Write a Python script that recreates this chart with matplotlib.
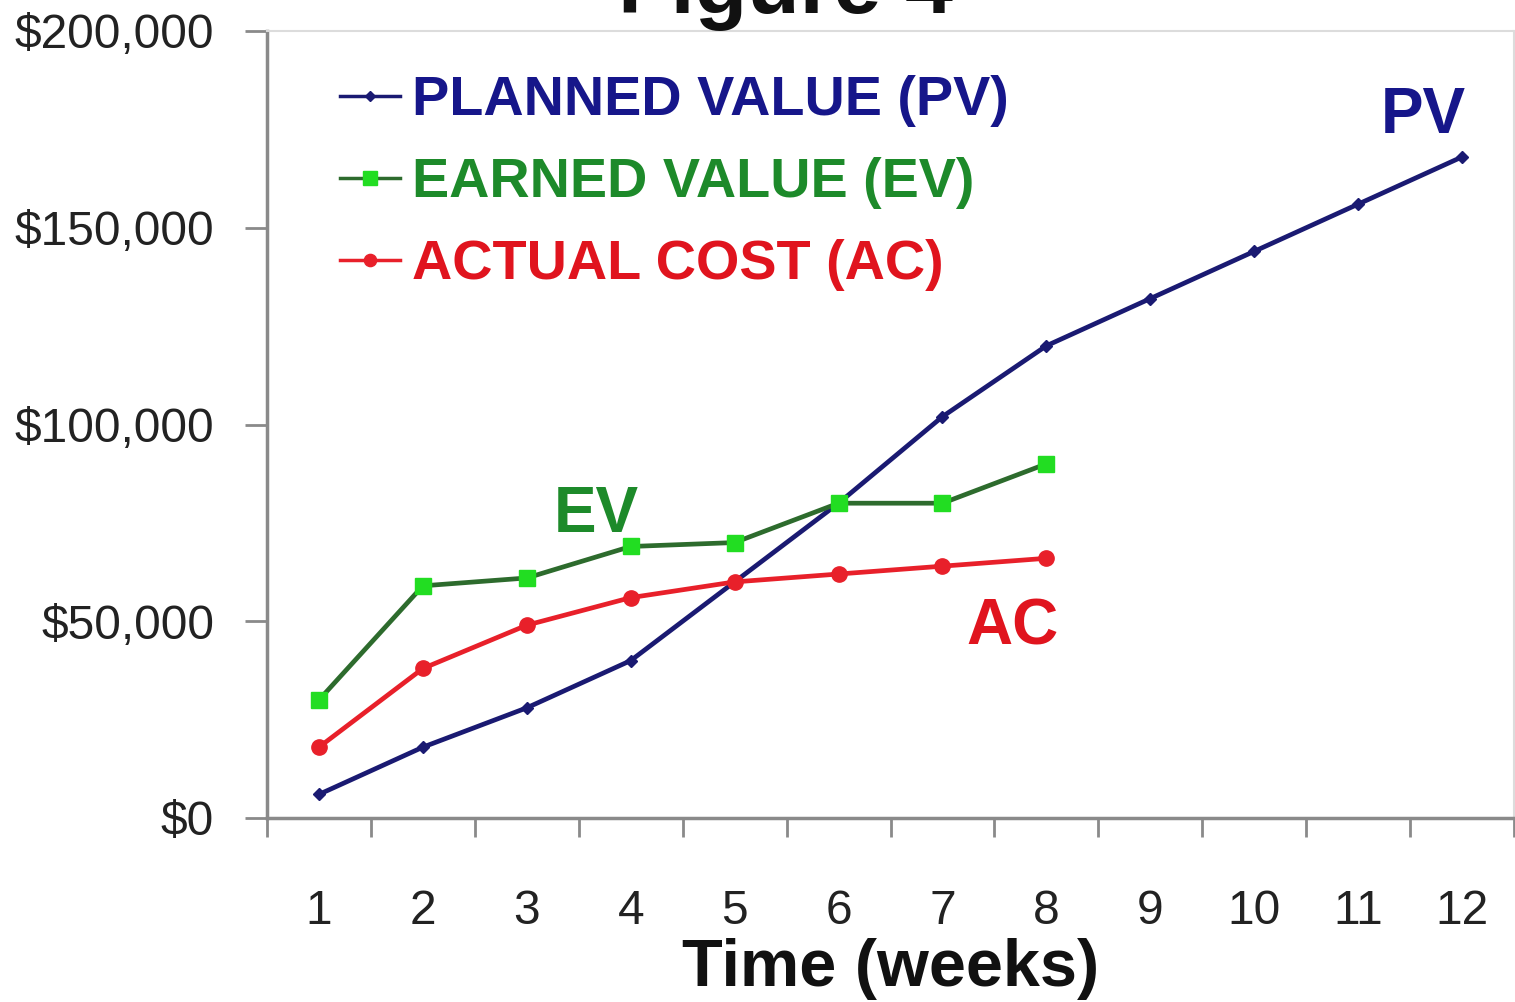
import matplotlib
matplotlib.use("Agg")
import matplotlib.pyplot as plt
import matplotlib.font_manager as fm
from matplotlib.ticker import FixedLocator, FuncFormatter

# ---- data ----
weeks = [1, 2, 3, 4, 5, 6, 7, 8, 9, 10, 11, 12]
week_labels = [str(w) for w in weeks]
pv = [6000, 18000, 28000, 40000, 60000, 80000, 102000, 120000, 132000, 144000, 156000, 168000]
ev_weeks = [1, 2, 3, 4, 5, 6, 7, 8]
ev = [30000, 59000, 61000, 69000, 70000, 80000, 80000, 90000]
ac_weeks = [1, 2, 3, 4, 5, 6, 7, 8]
ac = [18000, 38000, 49000, 56000, 60000, 62000, 64000, 66000]
y_ticks = [0, 50000, 100000, 150000, 200000]
series_names = ["PLANNED VALUE (PV)", "EARNED VALUE (EV)", "ACTUAL COST (AC)"]

# ---- fonts ----
avail = {f.name for f in fm.fontManager.ttflist}
if "Liberation Sans Narrow" in avail:
    NARROW = "Liberation Sans Narrow"
    nscale = 1.0
else:
    NARROW = "Liberation Sans"
    nscale = 0.82
WIDE = "Liberation Sans"

NAVY = "#1a1a72"
NAVY_TXT = "#16168a"
GREEN_LINE = "#2d6b2d"
GREEN_MK = "#22dd22"
GREEN_TXT = "#1d8a2a"
RED = "#e8202a"
RED_TXT = "#e0141e"

fig = plt.figure(figsize=(15.15, 10.02), dpi=100)
ax = fig.add_axes([267 / 1515, 184 / 1002, 1247 / 1515, 787 / 1002])

l_pv, = ax.plot(weeks, pv, color=NAVY, lw=3.4, marker="D", ms=6,
                mfc=NAVY, mec=NAVY, label=series_names[0], zorder=3)
l_ev, = ax.plot(ev_weeks, ev, color=GREEN_LINE, lw=3.4, marker="s", ms=12,
                mfc=GREEN_MK, mec=GREEN_MK, label=series_names[1], zorder=4)
l_ac, = ax.plot(ac_weeks, ac, color=RED, lw=3.4, marker="o", ms=11,
                mfc=RED, mec=RED, label=series_names[2], zorder=4)

ax.set_xlim(0.5, 12.5)
ax.set_ylim(0, 200000)

# spines
for s in ["left", "bottom"]:
    ax.spines[s].set_color("#8a8a8a")
    ax.spines[s].set_linewidth(2.5)
for s in ["top", "right"]:
    ax.spines[s].set_color("#dcdcdc")
    ax.spines[s].set_linewidth(1.5)

# y axis
ax.yaxis.set_major_locator(FixedLocator(y_ticks))
ax.yaxis.set_major_formatter(FuncFormatter(lambda v, p: "${:,.0f}".format(v)))
ax.tick_params(axis="y", direction="out", length=16, width=2, color="#8a8a8a",
               pad=22, labelsize=42 * nscale, labelcolor="#222222")

# x axis: labels at centers, ticks at boundaries
ax.set_xticks(weeks)
ax.set_xticklabels(week_labels)
ax.set_xticks([w - 0.5 for w in weeks] + [12.5], minor=True)
ax.tick_params(axis="x", which="major", length=0, pad=51,
               labelsize=42 * nscale, labelcolor="#222222")
ax.tick_params(axis="x", which="minor", direction="out", length=14, width=2,
               color="#8a8a8a")
for lab in ax.get_xticklabels() + ax.get_yticklabels():
    lab.set_fontfamily(NARROW)

ax.set_xlabel("Time (weeks)", fontsize=48, fontweight="bold", family=WIDE, color="#111111")
ax.xaxis.label.set_va("center")
ax.xaxis.set_label_coords(0.5, -(969 - 818) / 787)

# legend
leg = ax.legend(loc="upper left", bbox_to_anchor=(0.0585, 0.944), frameon=False,
                borderpad=0, borderaxespad=0, handlelength=1.07, handletextpad=0.23,
                labelspacing=0.54,
                prop={"family": NARROW, "weight": "bold", "size": 49 * nscale})
for t, c in zip(leg.get_texts(), [NAVY_TXT, GREEN_TXT, RED_TXT]):
    t.set_color(c)
for h in leg.legend_handles:
    h.set_markersize(h.get_markersize() * 0.8)
    h.set_linewidth(2.5)

# series labels
ax.text(11.63, 178400, "PV", color=NAVY_TXT, fontsize=46, fontweight="bold",
        family=WIDE, ha="center", va="center")
ax.text(3.67, 76900, "EV", color=GREEN_TXT, fontsize=46, fontweight="bold",
        family=WIDE, ha="center", va="center")
ax.text(7.67, 48500, "AC", color=RED_TXT, fontsize=46, fontweight="bold",
        family=WIDE, ha="center", va="center")

# title (cut off at top as in the reference)
fig.text(786 / 1515, 1 - 13 / 1002, "Figure 4", ha="center", va="baseline",
         fontsize=62, fontweight="bold", family=WIDE, color="#111111")

fig.savefig("out.png", dpi=100)
